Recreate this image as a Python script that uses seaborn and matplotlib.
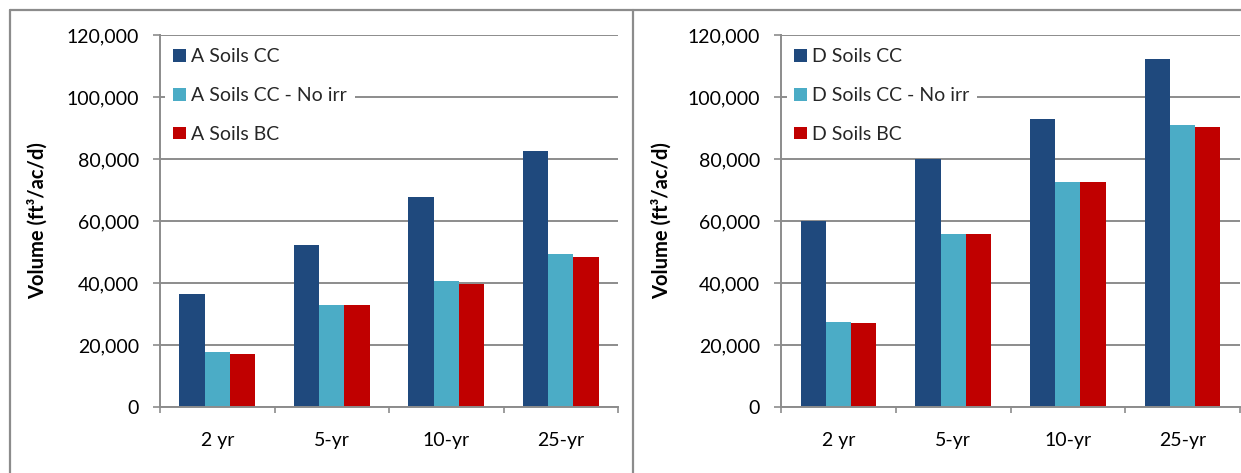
import matplotlib
matplotlib.use("Agg")
import matplotlib.pyplot as plt
from matplotlib.lines import Line2D
from matplotlib.ticker import FixedLocator, FuncFormatter, NullFormatter
import numpy as np
import pandas as pd
import seaborn as sns

# Storm events and runoff volumes (ft3/ac/d)
events = ["2 yr", "5-yr", "10-yr", "25-yr"]

a_series = ["A Soils CC", "A Soils CC - No irr", "A Soils BC"]
a_cc = [36500, 52200, 67700, 82500]
a_cc_noirr = [17700, 32900, 40600, 49400]
a_bc = [17000, 32900, 39700, 48400]

d_series = ["D Soils CC", "D Soils CC - No irr", "D Soils BC"]
d_cc = [60000, 80000, 92900, 112300]
d_cc_noirr = [27500, 55800, 72600, 90900]
d_bc = [27000, 55800, 72600, 90300]

y_ticks = [0, 20000, 40000, 60000, 80000, 100000, 120000]
y_label = "Volume (ft\u00b3/ac/d)"

colors = ["#1F497D", "#4BACC6", "#C00000"]
grid_gray = "#8c8c8c"

sns.set_theme(style="white")
plt.rcParams["font.family"] = ["Lato", "DejaVu Sans"]


def long_table(series, values):
    rows = []
    for name, vals in zip(series, values):
        for ev, v in zip(events, vals):
            rows.append({"event": ev, "series": name, "volume": v})
    return pd.DataFrame(rows)


W, H = 1241, 473
fig = plt.figure(figsize=(W / 100, H / 100), dpi=100)


def px_axes(x0, x1, ytop, ybot):
    return fig.add_axes([x0 / W, 1 - ybot / H, (x1 - x0) / W, (ybot - ytop) / H])


panels = [
    (px_axes(160, 618, 35, 407), a_series, [a_cc, a_cc_noirr, a_bc]),
    (px_axes(781, 1240, 35, 407), d_series, [d_cc, d_cc_noirr, d_bc]),
]

for ax, series, values in panels:
    df = long_table(series, values)
    sns.barplot(data=df, x="event", y="volume", hue="series", order=events,
                hue_order=series, palette=colors, width=0.66, saturation=1,
                edgecolor="none", ax=ax)

    ax.set_ylim(0, 120000)
    ax.set_xlim(-0.5, len(events) - 0.5)
    ax.set_axisbelow(True)
    ax.yaxis.grid(True, color=grid_gray, linewidth=1.4)
    ax.xaxis.grid(False)

    for side in ("top", "right"):
        ax.spines[side].set_visible(False)
    for side in ("left", "bottom"):
        ax.spines[side].set_color(grid_gray)
        ax.spines[side].set_linewidth(1.4)

    ax.yaxis.set_major_locator(FixedLocator(y_ticks))
    ax.yaxis.set_major_formatter(FuncFormatter(lambda v, p: f"{int(v):,}"))
    ax.tick_params(axis="y", which="major", direction="out", length=5,
                   width=1.2, color=grid_gray, pad=10, labelsize=14,
                   labelcolor="black", left=True)

    # tick marks between categories, labels centred on categories
    ax.xaxis.set_major_locator(FixedLocator(np.arange(-0.5, len(events), 1.0)))
    ax.xaxis.set_major_formatter(NullFormatter())
    ax.xaxis.set_minor_locator(FixedLocator(np.arange(len(events))))
    ax.set_xticklabels(events, minor=True)
    ax.tick_params(axis="x", which="major", direction="out", length=4.5,
                   width=1.2, color=grid_gray, bottom=True)
    ax.tick_params(axis="x", which="minor", length=0, pad=18, labelsize=14,
                   labelcolor="black", bottom=True)

    ax.set_xlabel("")
    ax.set_ylabel(y_label, fontsize=14.5, fontweight="bold", color="black")

    handles, labels = ax.get_legend_handles_labels()
    leg = ax.legend(handles, labels, loc="upper left",
                    bbox_to_anchor=(0.012, 0.985), borderaxespad=0.0,
                    borderpad=0.4, frameon=True, facecolor="white",
                    edgecolor="none", framealpha=1.0, fancybox=False,
                    fontsize=14, handlelength=0.63, handleheight=0.63,
                    handletextpad=0.3, labelspacing=1.12)
    leg.set_zorder(2)

panels[0][0].yaxis.set_label_coords(-0.245, 0.5)
panels[1][0].yaxis.set_label_coords(-0.238, 0.5)

# panel frames
frame_kw = dict(color=grid_gray, linewidth=1.6, transform=fig.transFigure)
top = 1 - 10 / H
fig.add_artist(Line2D([10 / W, 1.0], [top, top], **frame_kw))
fig.add_artist(Line2D([10 / W, 10 / W], [0, top], **frame_kw))
fig.add_artist(Line2D([633 / W, 633 / W], [0, top], **frame_kw))

fig.savefig("out.png", dpi=100, facecolor="white")
